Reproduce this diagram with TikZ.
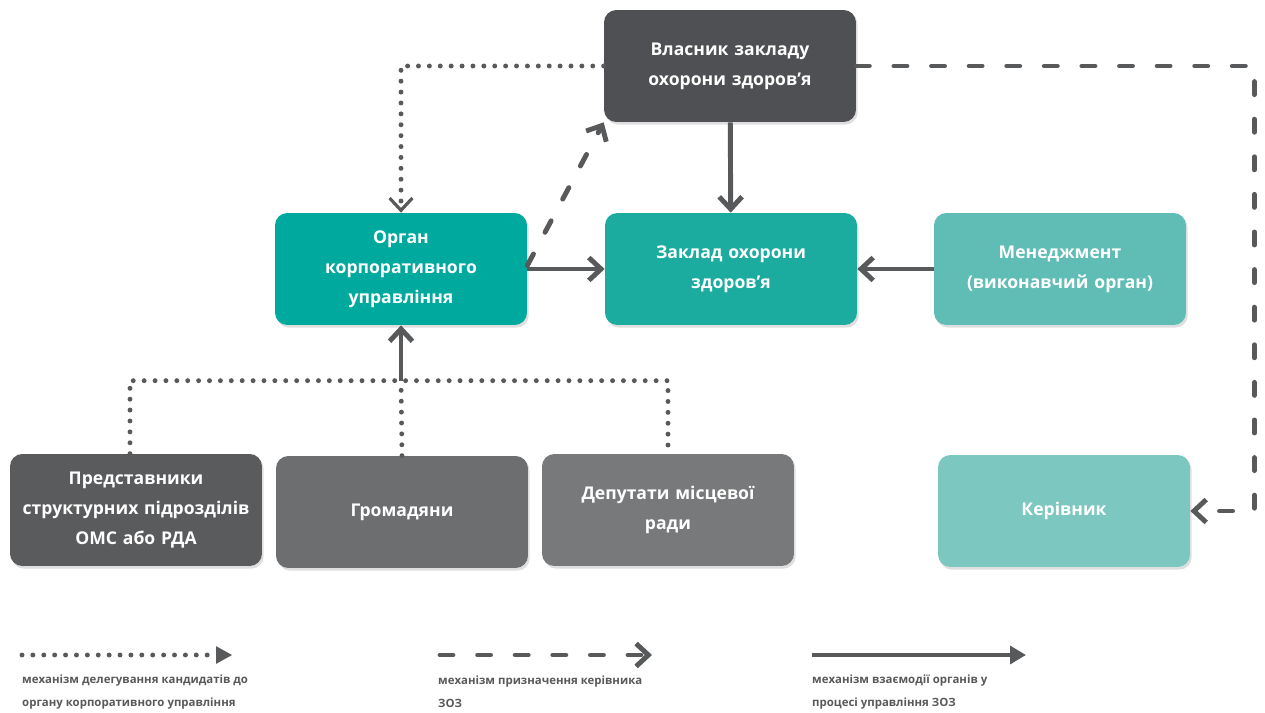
\documentclass[tikz,border=0pt]{standalone}
\usepackage{fontspec}
\setmainfont{Open Sans}
\usepackage{tikz}
\usetikzlibrary{arrows.meta,shadows}
\definecolor{lineg}{HTML}{58595B}
\definecolor{ownerc}{HTML}{4F5053}
\definecolor{organc}{HTML}{00A99D}
\definecolor{zozc}{HTML}{1BAC9F}
\definecolor{mgmtc}{HTML}{5FBDB5}
\definecolor{headc}{HTML}{7CC8C0}
\definecolor{repsc}{HTML}{5A5B5D}
\definecolor{citc}{HTML}{6D6E70}
\definecolor{depc}{HTML}{78797B}

\begin{document}
\begin{tikzpicture}[x=0.02cm, y=-0.02cm,
    box/.style={rounded corners=7pt, minimum width=5.04cm, minimum height=2.24cm,
        text width=4.8cm, align=center, text=white,
        font=\bfseries\fontsize{10}{17}\selectfont,
        drop shadow={opacity=0.25, shadow xshift=1pt, shadow yshift=-1.5pt}},
    solid_arrow/.style={line width=2.8pt, draw=lineg, -{Straight Barb[length=7pt, width=13pt]}},
    dash_arrow/.style={line width=2.8pt, draw=lineg, line cap=round,
        dash pattern=on 7.4pt off 14pt, -{Straight Barb[length=7pt, width=13pt]}},
    dot_line/.style={line width=2.8pt, draw=lineg, line cap=round, dash pattern=on 0pt off 6.2pt},
    dot_arrow/.style={dot_line, -{Straight Barb[length=7pt, width=13pt, line width=1.8pt]}},
    legend/.style={anchor=west, align=left, text=lineg,
        font=\bfseries\fontsize{6.5}{13}\selectfont}
]
    \useasboundingbox (0,0) rectangle (1265,713);

    \node[box, fill=ownerc] (owner) at (730,66) {Власник закладу\\охорони здоров’я};
    \node[box, fill=organc] (organ) at (401,269) {Орган\\корпоративного\\управління};
    \node[box, fill=zozc] (zoz) at (731,269) {Заклад охорони\\здоров’я};
    \node[box, fill=mgmtc] (mgmt) at (1060,269) {Менеджмент\\(виконавчий орган)};
    \node[box, fill=headc] (head) at (1064,511) {Керівник};
    \node[box, fill=repsc] (reps) at (136,510) {Представники\\структурних підрозділів\\ОМС або РДА};
    \node[box, fill=citc] (citizens) at (402,512) {Громадяни};
    \node[box, fill=depc] (deputies) at (668,510) {Депутати місцевої\\ради};

    \coordinate (join) at (401,381);

    \draw[dot_arrow] (owner.west) -| (organ.north);
    \draw[dash_arrow] ([yshift=2pt]organ.east) -- (owner.south west);
    \draw[solid_arrow] (organ) -- (zoz);
    \draw[solid_arrow] (owner) -- (zoz);
    \draw[solid_arrow] (mgmt) -- (zoz);
    \draw[dash_arrow] (owner.east) -- ++(398,0) |- (head.east);

    \draw[dot_line] ([xshift=-0.12cm]reps.north) -- ++(0,-73) -| (deputies.north);
    \draw[dot_line] (citizens.north) -- (join);
    \draw[solid_arrow] (join) -- (organ.south);

    % legend
    \coordinate (l1a) at (22,655);
    \coordinate (l1b) at (232,655);
    \coordinate (l2a) at (440,655);
    \coordinate (l2b) at (652,655);
    \coordinate (l3a) at (812,655);
    \coordinate (l3b) at (1026,655);
    \draw[dot_line, -{Triangle[length=9pt, width=10pt, line width=0pt]}] (l1a) -- (l1b);
    \draw[dash_arrow] (l2a) -- (l2b);
    \draw[line width=2.8pt, draw=lineg, -{Triangle[length=9pt, width=10pt]}] (l3a) -- (l3b);
    \node[legend] (t1) at (16,692) {механізм делегування кандидатів до\\органу корпоративного управління};
    \node[legend] (t2) at (432,692) {механізм призначення керівника\\ЗОЗ};
    \node[legend] (t3) at (806,692) {механізм взаємодії органів у\\процесі управління ЗОЗ};
\end{tikzpicture}
\end{document}
